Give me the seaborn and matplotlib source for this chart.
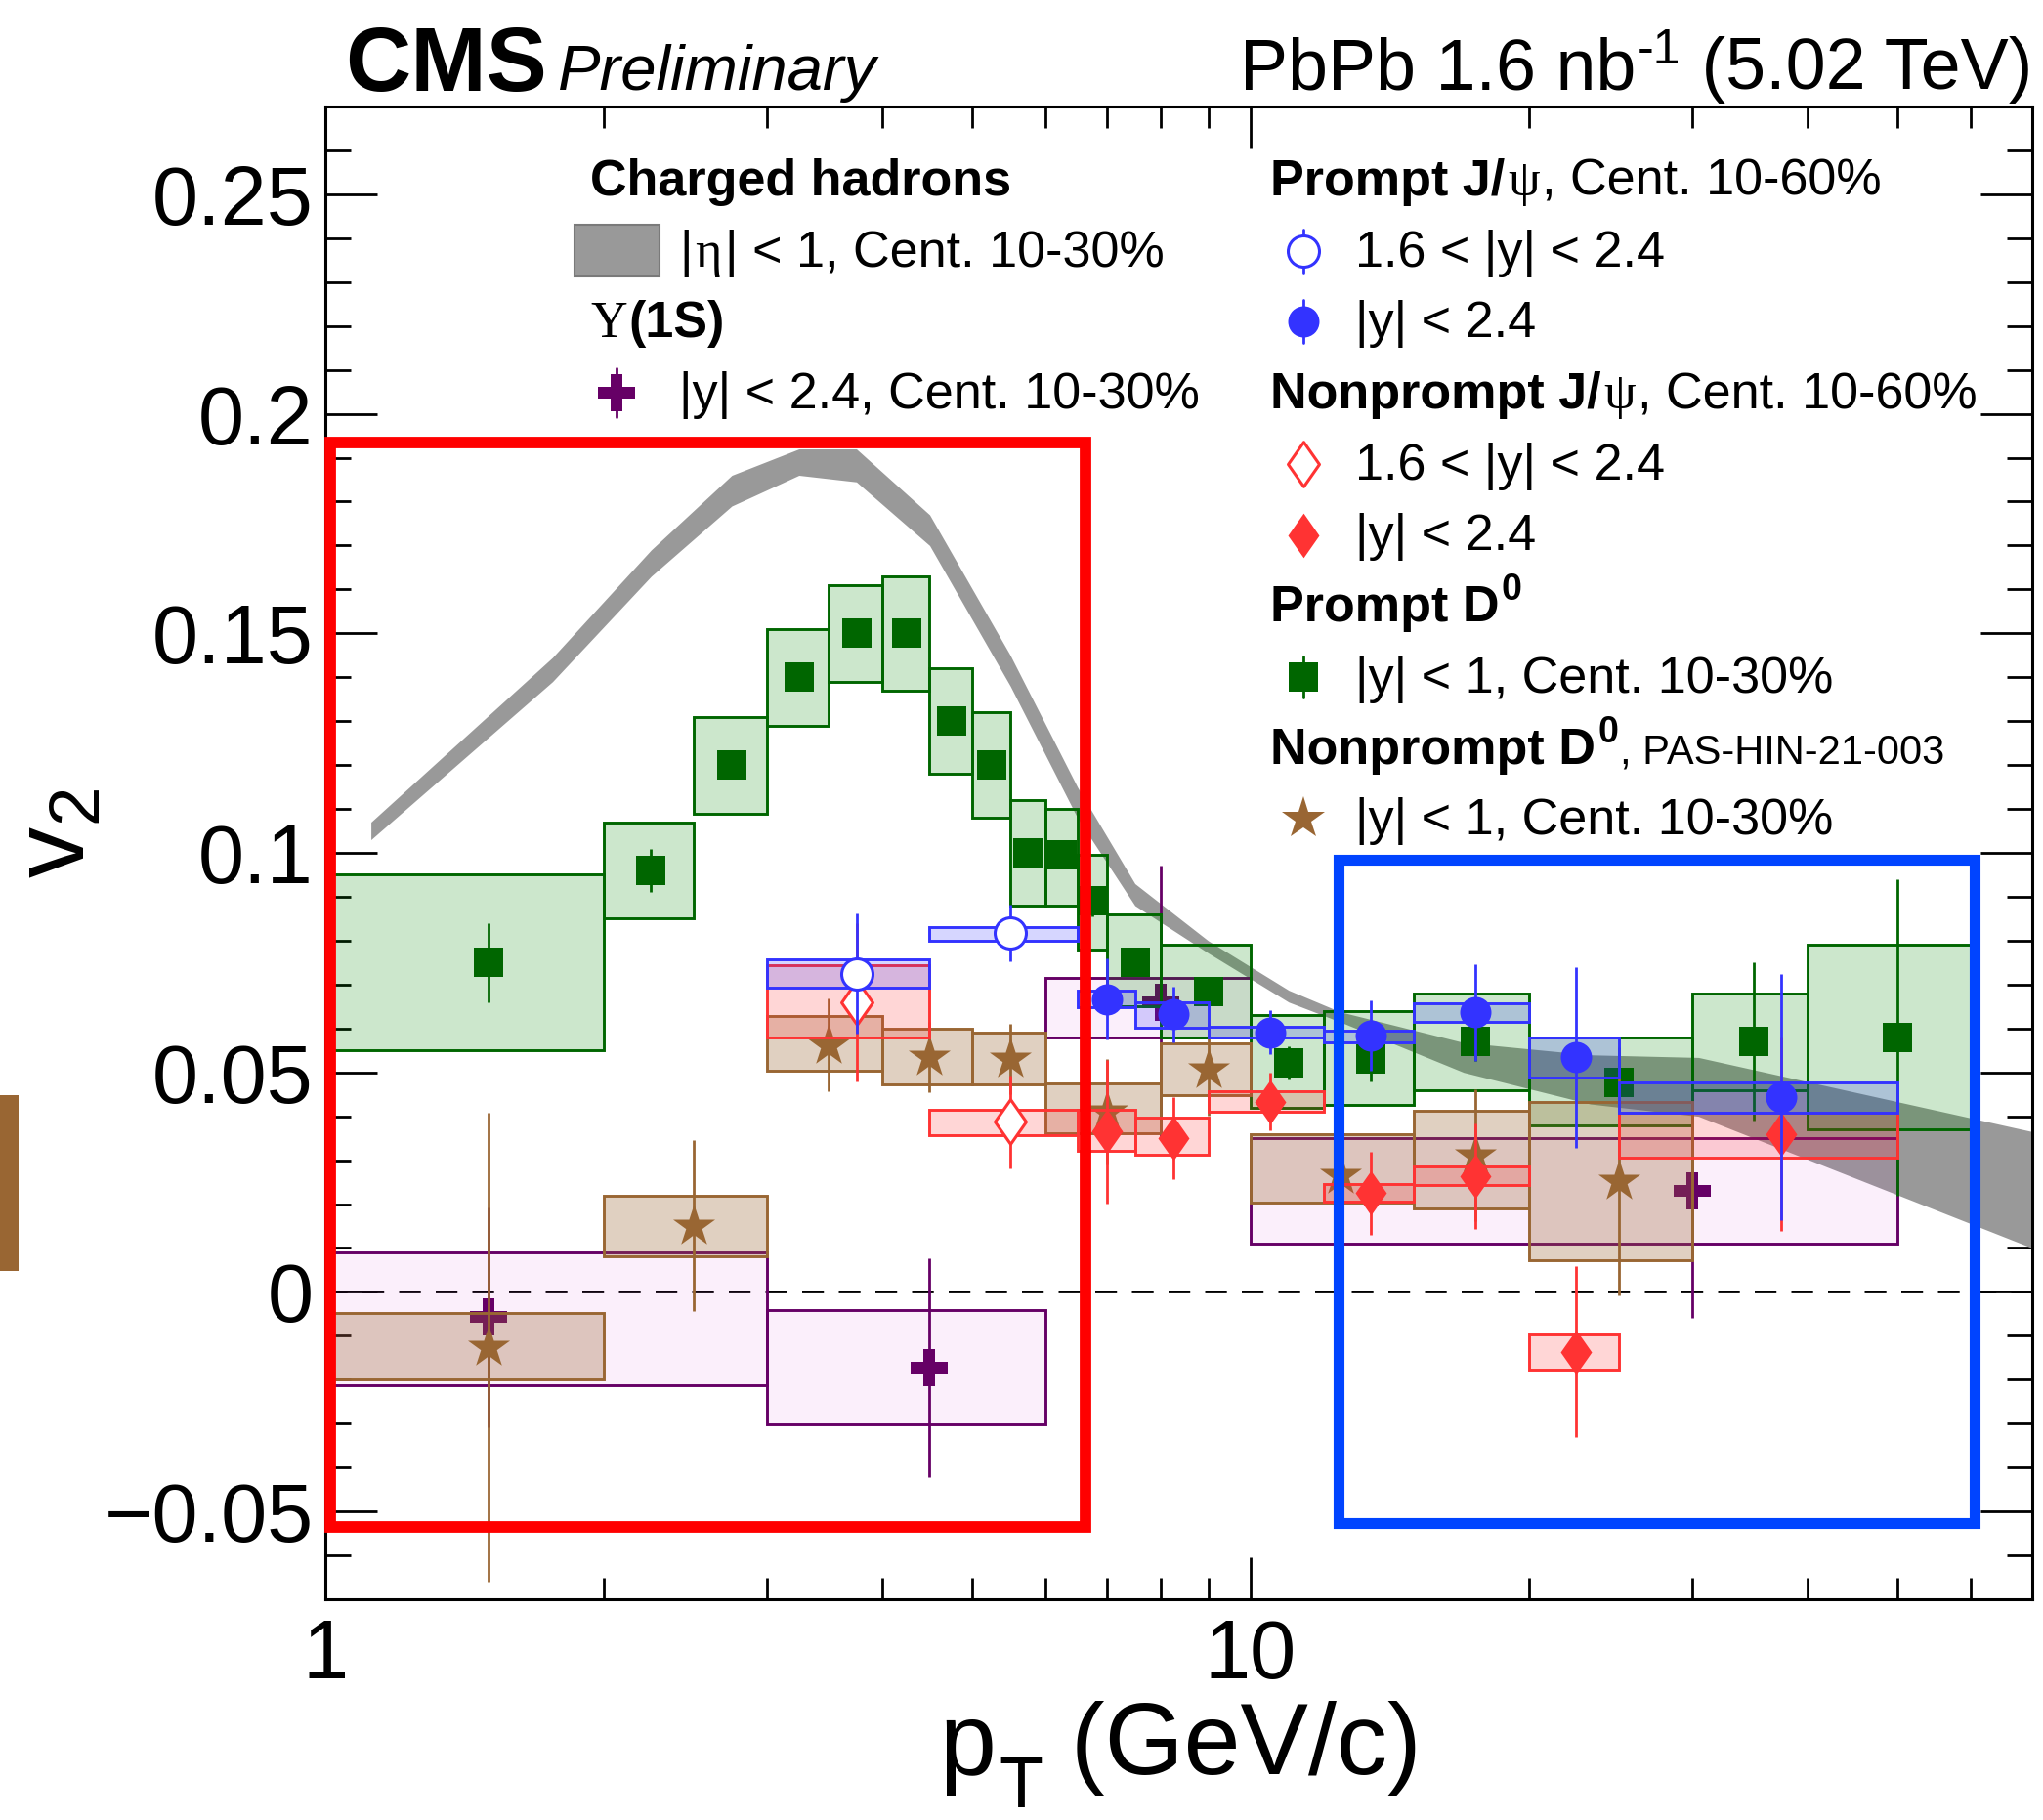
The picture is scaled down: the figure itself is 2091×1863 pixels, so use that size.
import numpy as np
import matplotlib
matplotlib.use("Agg")
import matplotlib.pyplot as plt
import seaborn as sns
from matplotlib.patches import Rectangle
from matplotlib.lines import Line2D
from matplotlib.path import Path
from matplotlib.markers import MarkerStyle
from matplotlib.colors import to_rgba
from matplotlib.ticker import FixedLocator, FixedFormatter, NullFormatter, MultipleLocator, LogLocator

# ---------------- data ----------------
# Charged hadrons band
CH_PT = [1.12, 1.76, 2.25, 2.75, 3.25, 3.75, 4.5, 5.5, 6.5, 7.5, 9.0, 11.0, 12.5, 17.0, 23.3, 30.5, 70.0]
CH_LO = [0.103, 0.139, 0.163, 0.179, 0.186, 0.1845, 0.170, 0.138, 0.108, 0.088, 0.0772, 0.066, 0.0615, 0.0500, 0.0428, 0.0400, 0.0100]
CH_HI = [0.107, 0.1445, 0.169, 0.186, 0.192, 0.192, 0.177, 0.145, 0.115, 0.093, 0.080, 0.0687, 0.0638, 0.0568, 0.0540, 0.0534, 0.0365]

# Prompt D0, |y|<1, 10-30%
D0_BIN_LO = [1, 2, 2.5, 3, 3.5, 4, 4.5, 5, 5.5, 6, 6.5, 7, 8, 10, 12, 15, 20, 30, 40]
D0_BIN_HI = [2, 2.5, 3, 3.5, 4, 4.5, 5, 5.5, 6, 6.5, 7, 8, 10, 12, 15, 20, 30, 40, 60]
D0_PT = [1.5, 2.25, 2.75, 3.25, 3.75, 4.25, 4.75, 5.25, 5.75, 6.25, 6.75, 7.5, 9, 11, 13.5, 17.5, 25, 35, 50]
D0_V2 = [0.075, 0.096, 0.120, 0.140, 0.150, 0.150, 0.130, 0.120, 0.100, 0.0995, 0.089, 0.075, 0.0685, 0.0522, 0.053, 0.057, 0.0478, 0.057, 0.058]
D0_STAT = [0.009, 0.005, 0.002, 0.002, 0.002, 0.002, 0.002, 0.002, 0.003, 0.003, 0.0035, 0.002, 0.002, 0.0038, 0.005, 0.0045, 0.008, 0.018, 0.036]
D0_SYS_LO = [0.055, 0.085, 0.109, 0.129, 0.139, 0.137, 0.118, 0.108, 0.088, 0.088, 0.078, 0.065, 0.058, 0.042, 0.0425, 0.046, 0.038, 0.046, 0.037]
D0_SYS_HI = [0.095, 0.107, 0.131, 0.151, 0.161, 0.163, 0.142, 0.132, 0.112, 0.110, 0.0995, 0.086, 0.079, 0.063, 0.064, 0.068, 0.058, 0.068, 0.079]

# Nonprompt D0, |y|<1, 10-30%
NPD_BIN_LO = [1, 2, 3, 4, 5, 6, 8, 10, 15, 20]
NPD_BIN_HI = [2, 3, 4, 5, 6, 8, 10, 15, 20, 30]
NPD_PT = [1.5, 2.5, 3.5, 4.5, 5.5, 7.0, 9.0, 12.5, 17.5, 25.0]
NPD_V2 = [-0.0126, 0.0151, 0.0562, 0.0534, 0.053, 0.041, 0.0507, 0.0265, 0.0311, 0.0253]
NPD_STAT = [0.0534, 0.0194, 0.0106, 0.008, 0.008, 0.012, 0.0105, 0.010, 0.015, 0.026]
NPD_SYS_LO = [-0.020, 0.008, 0.0503, 0.0472, 0.0472, 0.0362, 0.0449, 0.0203, 0.0191, 0.0072]
NPD_SYS_HI = [-0.0047, 0.0218, 0.0629, 0.0599, 0.059, 0.0474, 0.0566, 0.036, 0.0413, 0.0432]

# Upsilon(1S), |y|<2.4, 10-30%
UPS_BIN_LO = [1, 3, 6, 10]
UPS_BIN_HI = [3, 6, 10, 50]
UPS_PT = [1.5, 4.5, 8.0, 30.0]
UPS_V2 = [-0.0058, -0.0172, 0.066, 0.0231]
UPS_STAT = [0.025, 0.0249, 0.031, 0.029]
UPS_SYS_LO = [-0.0212, -0.0301, 0.058, 0.011]
UPS_SYS_HI = [0.0089, -0.0042, 0.0715, 0.0351]

# Prompt J/psi, 10-60%
PJ_FWD_BIN_LO = [3, 4.5]
PJ_FWD_BIN_HI = [4.5, 6.5]
PJ_FWD_PT = [3.75, 5.5]
PJ_FWD_V2 = [0.0725, 0.0817]
PJ_FWD_STAT = [0.0136, 0.0065]
PJ_FWD_SYS_LO = [0.0693, 0.080]
PJ_FWD_SYS_HI = [0.0757, 0.0832]

JP_BIN_LO = [6.5, 7.5, 9, 12, 15, 20, 25]
JP_BIN_HI = [7.5, 9, 12, 15, 20, 25, 50]
JP_PT = [7.0, 8.25, 10.5, 13.5, 17.5, 22.5, 37.5]
PJ_V2 = [0.0667, 0.0632, 0.0591, 0.0583, 0.0637, 0.0534, 0.0444]
PJ_STAT = [0.0092, 0.0063, 0.005, 0.008, 0.011, 0.0206, 0.028]
PJ_SYS_LO = [0.0648, 0.0602, 0.058, 0.0569, 0.0614, 0.0489, 0.0408]
PJ_SYS_HI = [0.0687, 0.0659, 0.0605, 0.0596, 0.0657, 0.0579, 0.0477]

# Nonprompt J/psi, 10-60%
NPJ_FWD_V2 = [0.066, 0.0387]
NPJ_FWD_STAT = [0.018, 0.0105]
NPJ_FWD_SYS_LO = [0.058, 0.0358]
NPJ_FWD_SYS_HI = [0.0745, 0.0414]

NPJ_V2 = [0.0365, 0.035, 0.0433, 0.0225, 0.0264, -0.0136, 0.0359]
NPJ_STAT = [0.0164, 0.0094, 0.0066, 0.0095, 0.012, 0.0195, 0.022]
NPJ_SYS_LO = [0.0321, 0.0312, 0.041, 0.0206, 0.0243, -0.0177, 0.0306]
NPJ_SYS_HI = [0.0414, 0.0398, 0.0456, 0.0245, 0.0285, -0.0098, 0.0408]

# highlight rectangles (x range, y range)
RED_HL_X = [1.012, 6.63]
RED_HL_Y = [-0.0536, 0.1934]
BLUE_HL_X = [12.45, 60.6]
BLUE_HL_Y = [-0.0527, 0.0985]

XTICKS = [1, 10]
XTICKLABELS = ["1", "10"]
YTICKS = [-0.05, 0.0, 0.05, 0.1, 0.15, 0.2, 0.25]
YTICKLABELS = ["\u22120.05", "0", "0.05", "0.1", "0.15", "0.2", "0.25"]

# ---------------- style ----------------
sns.set_theme(style="ticks")
plt.rcParams["font.family"] = ["Liberation Sans", "DejaVu Sans"]
plt.rcParams["mathtext.default"] = "regular"
for k in ["axes.edgecolor", "text.color", "xtick.color", "ytick.color", "axes.labelcolor"]:
    plt.rcParams[k] = "black"

W, H = 2091, 1863
fig = plt.figure(figsize=(W / 100, H / 100), dpi=100)
fig.patch.set_facecolor("white")
AX_L, AX_R, AX_T, AX_B = 333, 2080, 109, 1637
ax = fig.add_axes([AX_L / W, 1 - AX_B / H, (AX_R - AX_L) / W, (AX_B - AX_T) / H])
ax.set_facecolor("white")

GREEN = "#006600"
GREEN_FILL = to_rgba("#008800", 0.2)
BLUE = "#3333ff"
BLUE_FILL = to_rgba("#3333ff", 0.2)
RED = "#ff3333"
RED_FILL = to_rgba("#ff3333", 0.2)
BROWN = "#996633"
BROWN_FILL = to_rgba("#996633", 0.3)
PURPLE = "#660066"
PURPLE_FILL = to_rgba("#cc33cc", 0.08)
GRAY = "#999999"

BOX_LW = 2.1
ERR_LW = 2.0
S_SQ, S_CIRC, S_DIAM, S_STAR, S_PLUS = 465, 530, 1080, 1060, 740
DIAMOND = MarkerStyle(Path([(0, 1), (0.7, 0), (0, -1), (-0.7, 0), (0, 1)],
                           [Path.MOVETO, Path.LINETO, Path.LINETO, Path.LINETO, Path.CLOSEPOLY]))

ax.set_xscale("log")

# charged hadron band
ax.fill_between(CH_PT, CH_LO, CH_HI, color=GRAY, lw=0, zorder=1)
ax.axhline(0, color="black", lw=2, linestyle=(0, (8, 5.5)), zorder=1.5)


def boxes(blo, bhi, ylo, yhi, fill, edge, z):
    blo, bhi, ylo, yhi = map(np.asarray, (blo, bhi, ylo, yhi))
    ax.bar(x=blo, height=yhi - ylo, width=bhi - blo, bottom=ylo, align="edge",
           facecolor=fill, edgecolor=edge, linewidth=BOX_LW, zorder=z)


def stat(pt, v, e, col, z):
    ax.errorbar(pt, v, yerr=e, fmt="none", ecolor=col, elinewidth=ERR_LW, capsize=0, zorder=z)


def points(pt, v, marker, s, face, edge, lw, z):
    sns.scatterplot(x=pt, y=v, marker=marker, s=s, color=face, edgecolor=edge,
                    linewidth=lw, ax=ax, zorder=z, legend=False)


# Upsilon
boxes(UPS_BIN_LO, UPS_BIN_HI, UPS_SYS_LO, UPS_SYS_HI, PURPLE_FILL, PURPLE, 2)
stat(UPS_PT, UPS_V2, UPS_STAT, PURPLE, 2.1)
points(UPS_PT, UPS_V2, "P", S_PLUS, PURPLE, PURPLE, 0, 2.2)
# prompt D0
boxes(D0_BIN_LO, D0_BIN_HI, D0_SYS_LO, D0_SYS_HI, GREEN_FILL, GREEN, 3)
stat(D0_PT, D0_V2, D0_STAT, GREEN, 3.1)
points(D0_PT, D0_V2, "s", S_SQ, GREEN, GREEN, 0, 3.2)
# nonprompt D0
boxes(NPD_BIN_LO, NPD_BIN_HI, NPD_SYS_LO, NPD_SYS_HI, BROWN_FILL, BROWN, 4)
stat(NPD_PT, NPD_V2, NPD_STAT, BROWN, 4.1)
points(NPD_PT, NPD_V2, "*", S_STAR, BROWN, BROWN, 0, 4.2)
# nonprompt J/psi
boxes(PJ_FWD_BIN_LO, PJ_FWD_BIN_HI, NPJ_FWD_SYS_LO, NPJ_FWD_SYS_HI, RED_FILL, RED, 5)
boxes(JP_BIN_LO, JP_BIN_HI, NPJ_SYS_LO, NPJ_SYS_HI, RED_FILL, RED, 5)
stat(PJ_FWD_PT, NPJ_FWD_V2, NPJ_FWD_STAT, RED, 5.1)
stat(JP_PT, NPJ_V2, NPJ_STAT, RED, 5.1)
points(PJ_FWD_PT, NPJ_FWD_V2, DIAMOND, S_DIAM, "white", RED, 2.2, 5.2)
points(JP_PT, NPJ_V2, DIAMOND, S_DIAM, RED, RED, 0, 5.2)
# prompt J/psi
boxes(PJ_FWD_BIN_LO, PJ_FWD_BIN_HI, PJ_FWD_SYS_LO, PJ_FWD_SYS_HI, BLUE_FILL, BLUE, 6)
boxes(JP_BIN_LO, JP_BIN_HI, PJ_SYS_LO, PJ_SYS_HI, BLUE_FILL, BLUE, 6)
stat(PJ_FWD_PT, PJ_FWD_V2, PJ_FWD_STAT, BLUE, 6.1)
stat(JP_PT, PJ_V2, PJ_STAT, BLUE, 6.1)
points(PJ_FWD_PT, PJ_FWD_V2, "o", S_CIRC, "white", BLUE, 2.2, 6.2)
points(JP_PT, PJ_V2, "o", S_CIRC, BLUE, BLUE, 0, 6.2)

# highlight rectangles
ax.add_patch(Rectangle((RED_HL_X[0], RED_HL_Y[0]), RED_HL_X[1] - RED_HL_X[0], RED_HL_Y[1] - RED_HL_Y[0],
                       fill=False, edgecolor="#ff0000", lw=8.5, zorder=10, clip_on=False))
ax.add_patch(Rectangle((BLUE_HL_X[0], BLUE_HL_Y[0]), BLUE_HL_X[1] - BLUE_HL_X[0], BLUE_HL_Y[1] - BLUE_HL_Y[0],
                       fill=False, edgecolor="#0044ff", lw=8, zorder=10, clip_on=False))

# axes
ax.set_xlim(1, 70)
ax.set_ylim(-0.07, 0.27)
ax.xaxis.set_major_locator(FixedLocator(XTICKS))
ax.xaxis.set_major_formatter(FixedFormatter(XTICKLABELS))
ax.xaxis.set_minor_locator(LogLocator(base=10, subs=np.arange(2, 10), numticks=20))
ax.xaxis.set_minor_formatter(NullFormatter())
ax.set_yticks(YTICKS)
ax.set_yticklabels(YTICKLABELS)
ax.yaxis.set_minor_locator(MultipleLocator(0.01))
ax.tick_params(axis="both", which="both", direction="in", top=True, right=True, width=2.0,
               colors="black", labelsize=61)
ax.tick_params(axis="y", which="major", length=38, pad=9)
ax.tick_params(axis="y", which="minor", length=19)
ax.tick_params(axis="x", which="major", length=31, pad=14)
ax.tick_params(axis="x", which="minor", length=16)
for sp in ax.spines.values():
    sp.set_linewidth(2.2)
    sp.set_color("black")
ax.set_xlabel("")
ax.set_ylabel("")
ax.grid(False)

# ---------------- rich texts ----------------
renderer = fig.canvas.get_renderer()


def rich(x_px, y_px, parts, ha="left"):
    items = []
    for p in parts:
        s, kw = p[0], p[1]
        rp = p[2] if len(p) > 2 else 0
        gap = p[3] if len(p) > 3 else 0
        t = fig.text(0, 0, s, va="baseline", ha="left", **kw)
        w = t.get_window_extent(renderer=renderer).width
        items.append((t, w, rp, gap))
    total = sum(w + g for _, w, _, g in items)
    if ha == "right":
        cur = x_px - total
    elif ha == "center":
        cur = x_px - total / 2
    else:
        cur = x_px
    for t, w, rp, g in items:
        cur += g
        t.set_position((cur / W, 1 - (y_px - rp) / H))
        cur += w


# axis titles
rich(1208, 1816, [("p", dict(fontsize=75)), ("T", dict(fontsize=53), -34, 3),
                  (" (GeV/c)", dict(fontsize=75))], ha="center")
fig.text(87 / W, 1 - 853 / H, r"v$_{2}$", fontsize=75, rotation=90, rotation_mode="anchor",
         ha="center", va="baseline")

LS = 37.5
B = dict(fontsize=LS, fontweight="bold", family="Liberation Sans")
R = dict(fontsize=LS, family="Liberation Sans")
G = dict(fontsize=LS, family="Liberation Serif")
BSUP = dict(fontsize=LS * 0.72, fontweight="bold", family="Liberation Sans")
RSMALL = dict(fontsize=30, family="Liberation Sans")

# header
rich(353, 93, [("CMS", dict(fontsize=67, fontweight="bold"))])
rich(571, 92, [("Preliminary", dict(fontsize=47, style="italic"))])
rich(2080, 91, [("PbPb 1.6 nb", dict(fontsize=53)), ("-1", dict(fontsize=36), 26, 2),
                (" (5.02 TeV)", dict(fontsize=53))], ha="right")

ROW0, DROW = 200.0, 72.7
rows = [ROW0 + DROW * i for i in range(10)]
L_HDR, L_TXT, L_SYM = 604, 695, 631
R_HDR, R_TXT, R_SYM = 1300, 1387, 1334

rich(L_HDR, rows[0], [("Charged hadrons", B)])
rich(L_TXT, rows[1], [("|", R), ("\u03b7", G, 0, 3), ("| < 1, Cent. 10-30%", R, 0, 3)])
rich(L_HDR, rows[2], [("\u03a5", G), ("(1S)", B, 0, 2)])
rich(L_TXT, rows[3], [("|y| < 2.4, Cent. 10-30%", R)])

rich(R_HDR, rows[0], [("Prompt J/", B), ("\u03c8", G, 0, 3), (", Cent. 10-60%", R, 0, 2)])
rich(R_TXT, rows[1], [("1.6 < |y| < 2.4", R)])
rich(R_TXT, rows[2], [("|y| < 2.4", R)])
rich(R_HDR, rows[3], [("Nonprompt J/", B), ("\u03c8", G, 0, 3), (", Cent. 10-60%", R, 0, 2)])
rich(R_TXT, rows[4], [("1.6 < |y| < 2.4", R)])
rich(R_TXT, rows[5], [("|y| < 2.4", R)])
rich(R_HDR, rows[6], [("Prompt D", B), ("0", BSUP, 22, 2)])
rich(R_TXT, rows[7], [("|y| < 1, Cent. 10-30%", R)])
rich(R_HDR, rows[8], [("Nonprompt D", B), ("0", BSUP, 22, 2), (", PAS-HIN-21-003", RSMALL, 0, 2)])
rich(R_TXT, rows[9], [("|y| < 1, Cent. 10-30%", R)])

# legend keys
SYM_DY = 16


def key(xp, yp, marker, ms, face, edge, mew, errline=False, col=None):
    fx, fy = xp / W, 1 - yp / H
    if errline:
        half = (ms * 100 / 72) / 2 + 6
        fig.add_artist(Line2D([fx, fx], [1 - (yp - half) / H, 1 - (yp + half) / H],
                              color=col, lw=ERR_LW, transform=fig.transFigure))
    fig.add_artist(Line2D([fx], [fy], marker=marker, markersize=ms, markerfacecolor=face,
                          markeredgecolor=edge, markeredgewidth=mew, linestyle="none",
                          transform=fig.transFigure))


fig.add_artist(Rectangle((588 / W, 1 - 283 / H), 87 / W, 53 / H, transform=fig.transFigure,
                         facecolor=GRAY, edgecolor="#7a7a7a", lw=1.5))
key(L_SYM, rows[3] - SYM_DY, "P", np.sqrt(S_PLUS), PURPLE, PURPLE, 0, True, PURPLE)
key(R_SYM, rows[1] - SYM_DY, "o", np.sqrt(S_CIRC), "white", BLUE, 2.2, True, BLUE)
key(R_SYM, rows[2] - SYM_DY, "o", np.sqrt(S_CIRC), BLUE, BLUE, 0, True, BLUE)
key(R_SYM, rows[4] - SYM_DY, DIAMOND, np.sqrt(S_DIAM), "white", RED, 2.2)
key(R_SYM, rows[5] - SYM_DY, DIAMOND, np.sqrt(S_DIAM), RED, RED, 0)
key(R_SYM, rows[7] - SYM_DY, "s", np.sqrt(S_SQ), GREEN, GREEN, 0, True, GREEN)
key(R_SYM, rows[9] - SYM_DY, "*", np.sqrt(S_STAR), BROWN, BROWN, 0)

# stray brown patch at the left margin
fig.add_artist(Rectangle((0, 1 - 1301 / H), 19 / W, 180 / H, transform=fig.transFigure,
                         facecolor=BROWN, edgecolor="none"))

fig.savefig("out.png", dpi=100, facecolor="white")
